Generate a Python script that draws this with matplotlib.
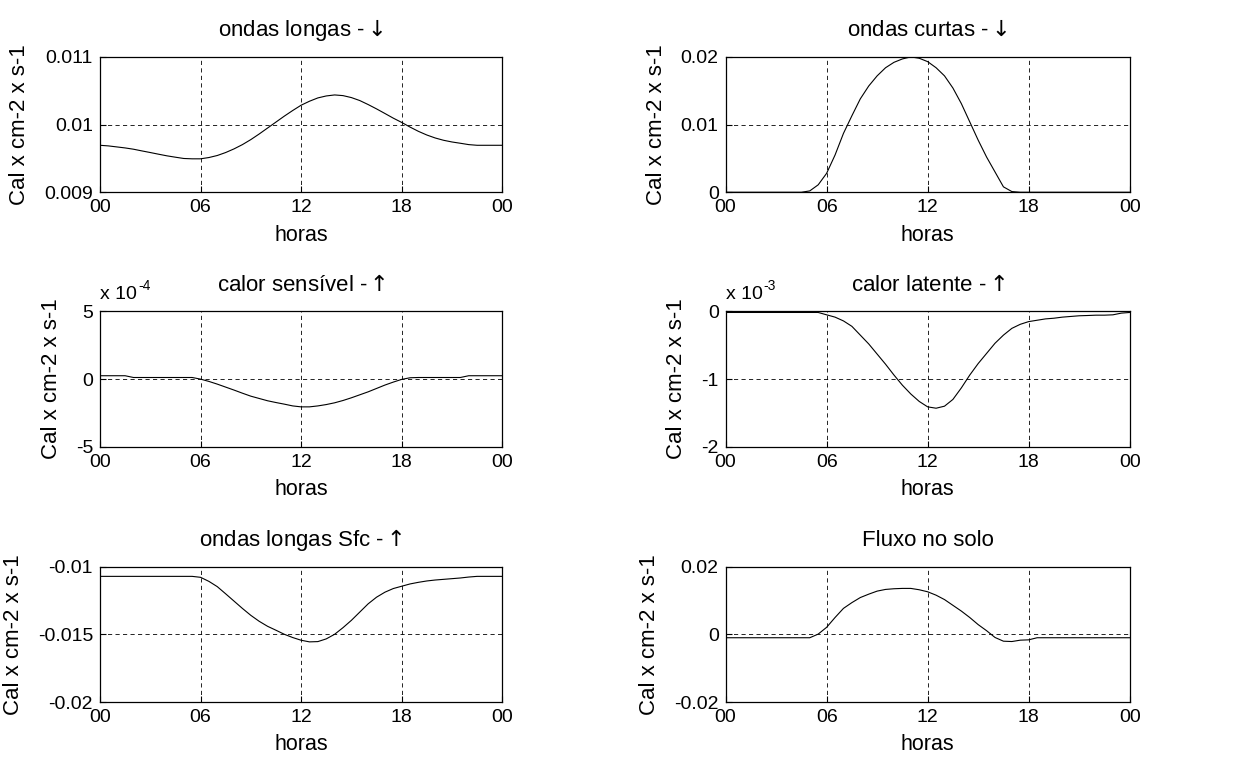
import matplotlib
matplotlib.use("Agg")
import matplotlib.pyplot as plt

plt.rcParams['font.family'] = ['Liberation Sans', 'DejaVu Sans']

# horas do dia, de meia em meia hora (0 a 24)
horas = [i * 0.5 for i in range(49)]

# ondas longas - descendente
ol_desc = [0.009694, 0.009685, 0.009670, 0.009655, 0.009636, 0.009611, 0.009587, 0.009562,
           0.009538, 0.009518, 0.009499, 0.009494, 0.009494, 0.009513, 0.009543, 0.009587,
           0.009641, 0.009704, 0.009778, 0.009861, 0.009949, 0.010037, 0.010125, 0.010208,
           0.010286, 0.010345, 0.010394, 0.010423, 0.010438, 0.010428, 0.010399, 0.010355,
           0.010296, 0.010232, 0.010164, 0.010095, 0.010032, 0.009963, 0.009900, 0.009846,
           0.009802, 0.009768, 0.009743, 0.009724, 0.009704, 0.009694, 0.009694, 0.009694,
           0.009694]

# ondas curtas - descendente
oc_desc = [0, 0, 0, 0, 0, 0, 0, 0, 0, 0, 0.0002, 0.0011, 0.0028, 0.0055, 0.0087, 0.0113,
           0.0138, 0.0157, 0.0172, 0.0184, 0.0192, 0.0197, 0.0200, 0.0198, 0.0193, 0.0184,
           0.0172, 0.0154, 0.0131, 0.0104, 0.0077, 0.0052, 0.0030, 0.0008, 0.0001, 0, 0, 0,
           0, 0, 0, 0, 0, 0, 0, 0, 0, 0, 0]

# calor sensivel
sens = [0.25e-4, 0.25e-4, 0.25e-4, 0.25e-4, 0.12e-4, 0.12e-4, 0.12e-4, 0.12e-4, 0.12e-4,
        0.12e-4, 0.12e-4, 0.12e-4, 0.0, -0.17e-4, -0.37e-4, -0.59e-4, -0.81e-4, -1.04e-4,
        -1.26e-4, -1.43e-4, -1.6e-4, -1.73e-4, -1.85e-4, -1.98e-4, -2.05e-4, -2.05e-4,
        -1.98e-4, -1.88e-4, -1.75e-4, -1.58e-4, -1.38e-4, -1.16e-4, -0.94e-4, -0.69e-4,
        -0.44e-4, -0.22e-4, -0.02e-4, 0.1e-4, 0.12e-4, 0.12e-4, 0.12e-4, 0.12e-4, 0.12e-4,
        0.12e-4, 0.25e-4, 0.25e-4, 0.25e-4, 0.25e-4, 0.25e-4]

# calor latente
lat = [-0.015e-3, -0.015e-3, -0.015e-3, -0.015e-3, -0.015e-3, -0.015e-3, -0.015e-3,
       -0.015e-3, -0.015e-3, -0.015e-3, -0.015e-3, -0.015e-3, -0.05e-3, -0.084e-3,
       -0.14e-3, -0.22e-3, -0.35e-3, -0.48e-3, -0.63e-3, -0.78e-3, -0.94e-3, -1.09e-3,
       -1.22e-3, -1.33e-3, -1.41e-3, -1.43e-3, -1.40e-3, -1.30e-3, -1.13e-3, -0.94e-3,
       -0.77e-3, -0.62e-3, -0.47e-3, -0.35e-3, -0.25e-3, -0.19e-3, -0.15e-3, -0.13e-3,
       -0.11e-3, -0.10e-3, -0.084e-3, -0.074e-3, -0.064e-3, -0.06e-3, -0.055e-3,
       -0.055e-3, -0.05e-3, -0.025e-3, -0.015e-3]

# ondas longas superficie
ol_sfc = [-0.01071, -0.01071, -0.01071, -0.01071, -0.01071, -0.01071, -0.01071, -0.01071,
          -0.01071, -0.01071, -0.01071, -0.01071, -0.01078, -0.01108, -0.01147, -0.01200,
          -0.01254, -0.01308, -0.01359, -0.01403, -0.01440, -0.01469, -0.01499, -0.01523,
          -0.01543, -0.01555, -0.01553, -0.01533, -0.01499, -0.01450, -0.01396, -0.01335,
          -0.01274, -0.01225, -0.01188, -0.01161, -0.01144, -0.01127, -0.01115, -0.01105,
          -0.01098, -0.01093, -0.01088, -0.01083, -0.01076, -0.01071, -0.01071, -0.01071,
          -0.01071]

# fluxo no solo
solo = [-0.00098, -0.00098, -0.00098, -0.00098, -0.00098, -0.00098, -0.00098, -0.00098,
        -0.00098, -0.00098, -0.00098, 0.0001, 0.0021, 0.0050, 0.0077, 0.0094, 0.0109, 0.0119,
        0.0128, 0.0133, 0.0135, 0.0136, 0.0136, 0.0132, 0.0126, 0.0116, 0.0103, 0.0086,
        0.0069, 0.0050, 0.0029, 0.0011, -0.0009, -0.0020, -0.0021, -0.0017, -0.0016,
        -0.00098, -0.00098, -0.00098, -0.00098, -0.00098, -0.00098, -0.00098, -0.00098,
        -0.00098, -0.00098, -0.00098, -0.00098]

titulos = ['ondas longas - $\\!\\!\\downarrow$', 'ondas curtas - $\\!\\!\\downarrow$',
           'calor sens\u00edvel - $\\!\\!\\uparrow$', 'calor latente - $\\!\\!\\uparrow$',
           'ondas longas Sfc - $\\!\\!\\uparrow$', 'Fluxo no solo']
series = [ol_desc, oc_desc, sens, lat, ol_sfc, solo]
ylims = [(0.009, 0.011), (0, 0.02), (-5e-4, 5e-4), (-2e-3, 0), (-0.02, -0.01), (-0.02, 0.02)]
yticks = [[0.009, 0.01, 0.011], [0, 0.01, 0.02], [-5e-4, 0, 5e-4], [-2e-3, -1e-3, 0],
          [-0.02, -0.015, -0.01], [-0.02, 0, 0.02]]
ytlabels = [['0.009', '0.01', '0.011'], ['0', '0.01', '0.02'], ['-5', '0', '5'],
            ['-2', '-1', '0'], ['-0.02', '-0.015', '-0.01'], ['-0.02', '0', '0.02']]
expoente = [None, None, '-4', '-3', None, None]

xticks = [0, 6, 12, 18, 24]
xtlabels = ['00', '06', '12', '18', '00']

fig = plt.figure(figsize=(12.34, 7.69), dpi=100)

# posicoes das axes (estilo subplot do MATLAB)
lefts = [0.081, 0.588]
bottoms = [0.750, 0.419, 0.087]
w = [0.326, 0.3275]
h = 0.176

for i in range(6):
    lin, col = divmod(i, 2)
    ax = fig.add_axes([lefts[col], bottoms[lin], w[col], h])
    ax.plot(horas, series[i], color='k', linewidth=0.8)
    ax.set_xlim(0, 24)
    ax.set_ylim(*ylims[i])
    ax.set_xticks(xticks)
    ax.set_xticklabels(xtlabels)
    ax.set_yticks(yticks[i])
    ax.set_yticklabels(ytlabels[i])
    ax.tick_params(direction='in', length=4, labelsize=14)
    ax.tick_params(axis='x', pad=5)
    ax.tick_params(axis='y', pad=5)
    ax.grid(True, color='k', linestyle=(0, (5, 4)), linewidth=0.6)
    ax.set_title(titulos[i], fontsize=16, pad=15)
    ax.set_xlabel('horas', fontsize=15.5, labelpad=6)
    ax.set_ylabel('Cal x cm-2 x s-1', fontsize=16, labelpad=10)
    for s in ax.spines.values():
        s.set_linewidth(0.9)
    if expoente[i]:
        t = ax.text(0.0, 1.0, 'x 10', transform=ax.transAxes, fontsize=14,
                    ha='left', va='bottom')
        t.set_y(1.06)
        ax.annotate(expoente[i], xy=(1.0, 0.6), xycoords=t, fontsize=10,
                    ha='left', va='bottom', xytext=(1, 0), textcoords='offset points')

fig.savefig('out.png', dpi=100)
